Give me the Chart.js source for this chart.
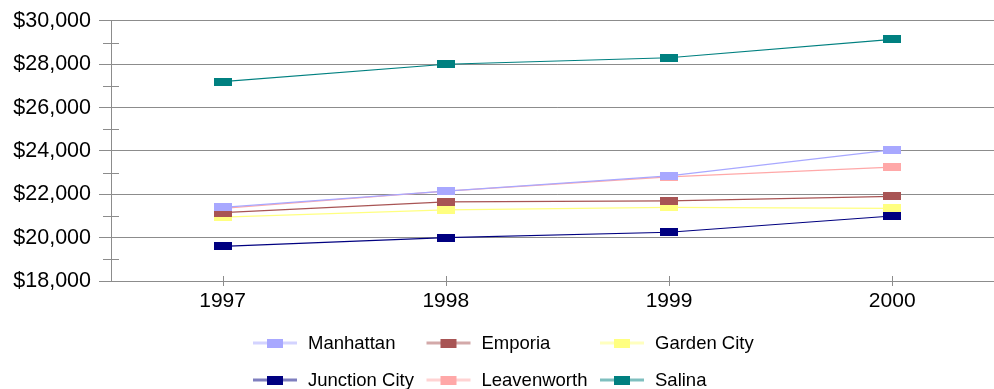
<!DOCTYPE html>
<html>
<head>
<meta charset="utf-8">
<script src="https://cdn.jsdelivr.net/npm/chart.js@4/dist/chart.umd.min.js"></script>
<style>
  html, body { margin: 0; padding: 0; background: #fff; overflow: hidden; }
  #c { display: block; }
</style>
</head>
<body>
<canvas id="c" width="1010" height="389" style="width:1010px;height:389px"></canvas>
<script>
// Average income by city, 1997–2000
const years = ['1997', '1998', '1999', '2000'];
const cities = ['Manhattan', 'Emporia', 'Garden City', 'Junction City', 'Leavenworth', 'Salina'];
const manhattan    = [21400, 22150, 22850, 24050];
const emporia      = [21150, 21650, 21700, 21900];
const gardenCity   = [20950, 21280, 21400, 21350];
const junctionCity = [19600, 20000, 20250, 21000];
const leavenworth  = [21350, 22150, 22800, 23250];
const salina       = [27200, 28000, 28300, 29150];
const yTicks = { min: 18000, max: 30000, step: 2000 };

const seriesValues = [manhattan, emporia, gardenCity, junctionCity, leavenworth, salina];
const colors = ['#a8a8ff', '#a85454', '#ffff80', '#000080', '#ffa8a8', '#008080'];

// Flat rectangular marker drawn into a small canvas
function rectMarker(color) {
  const cv = document.createElement('canvas');
  cv.width = 18; cv.height = 8;
  const g = cv.getContext('2d');
  g.fillStyle = color;
  g.fillRect(0, 0, 18, 8);
  return cv;
}

const datasets = cities.map((name, i) => ({
  label: name,
  data: seriesValues[i],
  borderColor: colors[i],
  backgroundColor: colors[i],
  borderWidth: 1.2,
  pointStyle: rectMarker(colors[i]),
  pointRadius: 5,
  tension: 0
}));

const axisGray = '#8c8c8c';

// Short cross ticks on the category axis and minor ticks on the value axis
const tickMarks = {
  id: 'tickMarks',
  afterDraw(chart) {
    const ctx = chart.ctx;
    const x = chart.scales.x, y = chart.scales.y;
    ctx.save();
    ctx.strokeStyle = axisGray;
    ctx.lineWidth = 1;
    ctx.beginPath();
    years.forEach((_, i) => {
      const px = Math.round(x.getPixelForValue(i)) + 0.5;
      ctx.moveTo(px, y.bottom - 5);
      ctx.lineTo(px, y.bottom + 5);
    });
    for (let v = yTicks.min + yTicks.step / 2; v < yTicks.max; v += yTicks.step) {
      const py = Math.round(y.getPixelForValue(v)) + 0.5;
      ctx.moveTo(y.right - 8, py);
      ctx.lineTo(y.right + 8, py);
    }
    ctx.stroke();
    ctx.restore();
  }
};

// Legend laid out as a three-column grid under the plot
const gridLegend = {
  id: 'gridLegend',
  afterDraw(chart) {
    const ctx = chart.ctx;
    const colW = 173.5, rowH = 37, x0 = 253, y0 = 343;
    ctx.save();
    ctx.font = '18.5px "Liberation Sans", Arial, sans-serif';
    ctx.textBaseline = 'middle';
    chart.data.datasets.forEach((ds, i) => {
      const cx = x0 + (i % 3) * colW;
      const cy = y0 + Math.floor(i / 3) * rowH;
      ctx.globalAlpha = 0.5;
      ctx.strokeStyle = ds.borderColor;
      ctx.lineWidth = 3;
      ctx.beginPath();
      ctx.moveTo(cx, cy);
      ctx.lineTo(cx + 44, cy);
      ctx.stroke();
      ctx.globalAlpha = 1;
      ctx.fillStyle = ds.backgroundColor;
      ctx.fillRect(cx + 14, cy - 4, 16, 9);
      ctx.fillStyle = '#000';
      ctx.fillText(ds.label, cx + 55, cy + 1);
    });
    ctx.restore();
  }
};

new Chart(document.getElementById('c'), {
  type: 'line',
  data: { labels: years, datasets },
  plugins: [tickMarks, gridLegend],
  options: {
    responsive: false,
    animation: false,
    layout: { padding: { top: 20, left: 0, right: 0, bottom: 0 } },
    plugins: { legend: { display: false }, tooltip: { enabled: false } },
    scales: {
      x: {
        offset: true,
        grid: { display: false },
        border: { display: true, color: axisGray, width: 1 },
        ticks: {
          color: '#000',
          padding: 0,
          font: { family: '"Liberation Sans", Arial, sans-serif', size: 21 }
        },
        afterFit(scale) { scale.height = 108; }
      },
      y: {
        min: yTicks.min,
        max: yTicks.max,
        ticks: {
          stepSize: yTicks.step,
          color: '#000',
          padding: 8,
          font: { family: '"Liberation Sans", Arial, sans-serif', size: 21.5 },
          callback: v => '$' + v.toLocaleString('en-US')
        },
        grid: { color: axisGray, tickColor: axisGray, tickLength: 12, lineWidth: 1 },
        border: { display: true, color: axisGray, width: 1 },
        afterFit(scale) { scale.width = 111; }
      }
    }
  }
});
</script>
</body>
</html>
